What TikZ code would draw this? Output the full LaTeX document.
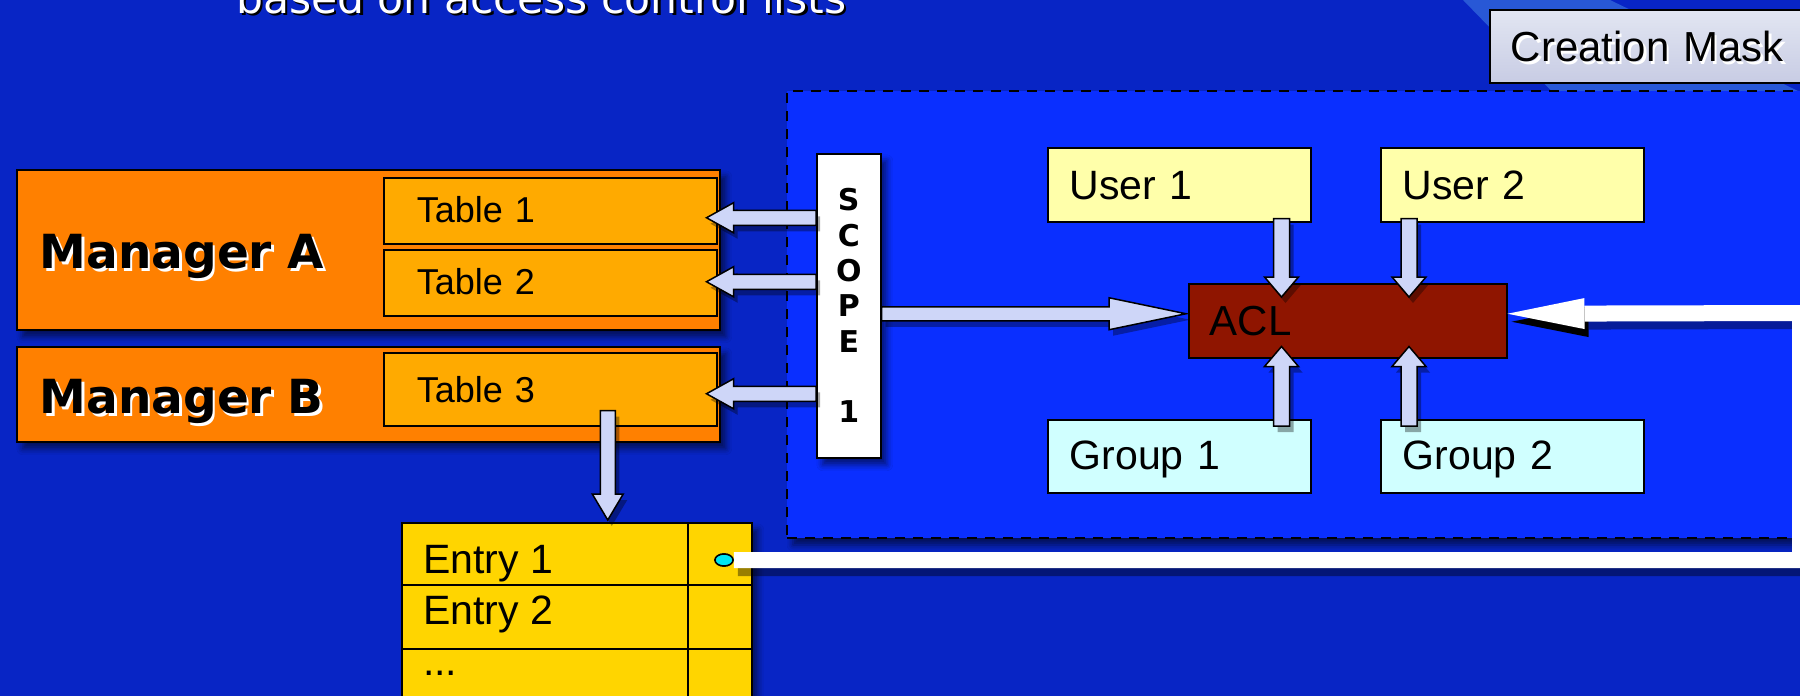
\documentclass[tikz,border=0pt]{standalone}
\usepackage{fontspec}
\setmainfont{Liberation Sans}
\newfontfamily\vfont{DejaVu Sans}
\usetikzlibrary{calc,arrows.meta,shapes.geometric,shadows.blur}

\definecolor{bgblue}{RGB}{8,37,197}
\definecolor{stripeblue}{RGB}{40,88,214}
\definecolor{maskblue}{RGB}{10,47,255}
\definecolor{cmtop}{RGB}{226,230,242}
\definecolor{cmbot}{RGB}{200,204,228}
\definecolor{mgrorange}{RGB}{255,128,0}
\definecolor{tblorange}{RGB}{255,170,0}
\definecolor{entrygold}{RGB}{255,213,0}
\definecolor{aclred}{RGB}{143,21,0}
\definecolor{userfill}{RGB}{255,255,170}
\definecolor{groupfill}{RGB}{208,255,255}
\definecolor{arrowfill}{RGB}{206,214,248}
\definecolor{dotcyan}{RGB}{0,230,240}

\newcommand\fsz[1]{\fontsize{#1}{#1}\selectfont}
% text with an offset shadow copy underneath
\newcommand\shtext[2]{\makebox[0pt][l]{\hspace{2.5pt}\raisebox{-2.5pt}{\color{#1}#2}}#2}

% outlined block arrow: start, tip, shaft half width, head length, head half width
\newcommand\blockarrow[5]{%
  \coordinate (ba-s) at #1;
  \coordinate (ba-t) at #2;
  \coordinate (ba-h) at ($(ba-t)!#4pt!(ba-s)$);
  \def\bapoly{($(ba-s)!#3pt!90:(ba-t)$) -- ($(ba-h)!#3pt!-90:(ba-s)$) --
    ($(ba-h)!#5pt!-90:(ba-s)$) -- (ba-t) -- ($(ba-h)!#5pt!90:(ba-s)$) --
    ($(ba-h)!#3pt!90:(ba-s)$) -- ($(ba-s)!#3pt!-90:(ba-t)$) -- cycle}%
  \fill[arrowshadow] \bapoly;
  \filldraw[arrowbody] \bapoly;
}

\begin{document}
\begin{tikzpicture}[x=1pt,y=-1pt,
  softshadow/.style={blur shadow={shadow xshift=6pt, shadow yshift=-7pt,
      shadow blur radius=6pt, shadow opacity=55}},
  labelbox/.style={draw=black, line width=1.5pt, inner ysep=0pt, align=left,
      anchor=north west, text depth=0pt},
  region/.style={draw=black, line width=2pt, dash pattern=on 10pt off 8pt,
      fill=maskblue, inner sep=0pt},
  arrowbody/.style={fill=arrowfill, draw=black, line width=1.5pt, line join=miter},
  arrowshadow/.style={fill=black, fill opacity=0.35,
      transform canvas={shift={(4pt,-6pt)}}},
  gridline/.style={draw=black, line width=1.5pt},
  whiteline/.style={draw=white, line width=16pt, line join=miter,
      -{Triangle[length=77pt,width=31pt,line width=0pt]}},
  whiteshadow/.style={draw=black, draw opacity=0.4, line width=16pt, line join=miter,
      -{Triangle[length=77pt,width=31pt,line width=0pt]},
      transform canvas={shift={(4pt,-8pt)}}},
  cell/.style={anchor=base west, inner sep=0pt, font=\fsz{41}}
]
\useasboundingbox (0,0) rectangle (1800,696);
\clip (0,0) rectangle (1800,696);

% slide background
\fill[bgblue] (0,0) rectangle (1800,696);
\fill[stripeblue] (1463,0) -- (1610,0) -- (1800,92) -- (1800,110) -- (1570,110) -- cycle;

\node[anchor=base west, inner sep=0pt, font=\vfont\fsz{42.5}, text=white] (title)
  at (236,13) {\shtext{black}{based on access control lists}};

% region governed by the creation mask
\node[region, softshadow, anchor=north west, minimum width=1044pt,
  minimum height=447.5pt] (maskarea) at (786,89.5) {};

\node[labelbox, top color=cmtop, bottom color=cmbot, minimum width=340pt,
  minimum height=73pt, inner xsep=21pt, text width=298pt, text height=31pt,
  font=\fsz{42}] (cmask) at (1489,9) {\shtext{white}{Creation Mask}};

% managers and their tables
\node[labelbox, fill=mgrorange, softshadow, minimum width=703pt, minimum height=160pt,
  inner xsep=23pt, text width=657pt, text height=38pt, font=\vfont\bfseries\fsz{47}]
  (mgra) at (16,169) {\shtext{white}{Manager A}};
\node[labelbox, fill=mgrorange, softshadow, minimum width=703pt, minimum height=95pt,
  inner xsep=23pt, text width=657pt, text height=39pt, font=\vfont\bfseries\fsz{47}]
  (mgrb) at (16,346) {\shtext{white}{Manager B}};

\node[labelbox, fill=tblorange, minimum width=333pt, minimum height=66pt,
  inner xsep=33pt, text width=267pt, text height=24pt, font=\fsz{36}]
  (t1) at (383,177) {Table 1};
\node[labelbox, fill=tblorange, minimum width=333pt, minimum height=66pt,
  inner xsep=33pt, text width=267pt, text height=24pt, font=\fsz{36}]
  (t2) at (383,249) {Table 2};
\node[labelbox, fill=tblorange, minimum width=333pt, minimum height=73pt,
  inner xsep=33pt, text width=267pt, text height=27pt, font=\fsz{36}]
  (t3) at (383,352) {Table 3};

% entry table
\node[draw=black, line width=1.5pt, fill=entrygold, softshadow, anchor=north west,
  inner sep=0pt, minimum width=350pt, minimum height=200pt] (etab) at (401,522) {};
\draw[gridline] ([yshift=-63pt]etab.north west) -- ([yshift=-63pt]etab.north east);
\draw[gridline] ([yshift=-127pt]etab.north west) -- ([yshift=-127pt]etab.north east);
\draw[gridline] ([xshift=287pt]etab.north west) -- ([xshift=287pt]etab.south west);
\node[cell] (e1) at ([xshift=22pt,yshift=-51pt]etab.north west) {Entry 1};
\node[cell] (e2) at ([xshift=22pt,yshift=-102pt]etab.north west) {Entry 2};
\node[cell] (e3) at ([xshift=22pt,yshift=-153pt]etab.north west) {...};

% users, groups and the ACL
\node[labelbox, fill=userfill, minimum width=263pt, minimum height=74pt,
  inner xsep=22pt, text width=219pt, text height=30pt, font=\fsz{41}]
  (u1) at (1047,147) {User 1};
\node[labelbox, fill=userfill, minimum width=263pt, minimum height=74pt,
  inner xsep=22pt, text width=219pt, text height=30pt, font=\fsz{41}]
  (u2) at (1380,147) {User 2};
\node[labelbox, fill=groupfill, minimum width=263pt, minimum height=73pt,
  inner xsep=22pt, text width=219pt, text height=27pt, font=\fsz{41}]
  (g1) at (1047,419) {Group 1};
\node[labelbox, fill=groupfill, minimum width=263pt, minimum height=73pt,
  inner xsep=22pt, text width=219pt, text height=27pt, font=\fsz{41}]
  (g2) at (1380,419) {Group 2};
\node[labelbox, fill=aclred, minimum width=318pt, minimum height=74pt,
  inner xsep=21pt, text width=276pt, text height=30pt, font=\fsz{42}]
  (acl) at (1188,283) {ACL};

% scope bar
\node[draw=black, line width=1.5pt, fill=white, softshadow, anchor=north west,
  inner sep=0pt, minimum width=64pt, minimum height=304pt, align=center,
  font=\vfont\bfseries\fontsize{30}{35.3}\selectfont]
  (scope) at (816,153) {S\\C\\O\\P\\E\\\mbox{}\\1};

% scope to tables
\coordinate (tipA) at ([xshift=-11pt,yshift=-7pt]t1.east);
\coordinate (tipB) at ([xshift=-11pt,yshift=1pt]t2.east);
\coordinate (tipC) at ([xshift=-11pt,yshift=-4.5pt]t3.east);
\blockarrow{(scope.west |- tipA)}{(tipA)}{7.5}{27}{15}
\blockarrow{(scope.west |- tipB)}{(tipB)}{7.5}{27}{15}
\blockarrow{(scope.west |- tipC)}{(tipC)}{7.5}{27}{15}

% table 3 to its entries
\coordinate (downS) at ([xshift=57.5pt,yshift=16pt]t3.south);
\coordinate (downX) at (downS |- etab.north);
\coordinate (downT) at ([yshift=2pt]downX);
\blockarrow{(downS)}{(downT)}{7.5}{26}{15.5}

% scope to ACL
\coordinate (tipD) at ([xshift=-2pt,yshift=7pt]acl.west);
\blockarrow{(scope.east |- tipD)}{(tipD)}{7}{77}{16}

% users and groups to ACL
\coordinate (ua) at ([xshift=-30pt,yshift=4pt]u1.south east);
\coordinate (uaX) at (ua |- acl.north);
\coordinate (uaT) at ([yshift=-14pt]uaX);
\blockarrow{(ua)}{(uaT)}{8}{20}{17}
\coordinate (ub) at ([xshift=29pt,yshift=4pt]u2.south west);
\coordinate (ubX) at (ub |- acl.north);
\coordinate (ubT) at ([yshift=-14pt]ubX);
\blockarrow{(ub)}{(ubT)}{8}{20}{17}
\coordinate (ga) at ([xshift=-30pt,yshift=-7pt]g1.north east);
\coordinate (gaX) at (ga |- acl.south);
\coordinate (gaT) at ([yshift=12pt]gaX);
\blockarrow{(ga)}{(gaT)}{8}{20}{17}
\coordinate (gb) at ([xshift=29pt,yshift=-7pt]g2.north west);
\coordinate (gbX) at (gb |- acl.south);
\coordinate (gbT) at ([yshift=12pt]gbX);
\blockarrow{(gb)}{(gbT)}{8}{20}{17}

% entry reference back to the ACL
\node[ellipse, draw=black, line width=1.5pt, fill=dotcyan, inner sep=0pt,
  minimum width=18pt, minimum height=12pt] (dot) at (724,560) {};
\coordinate (edge) at (1800,313);
\coordinate (aclin) at ([yshift=7pt]acl.east);
\draw[whiteshadow] (dot.east) -| (edge) -- (aclin);
\draw[whiteline] (dot.east) -| (edge) -- (aclin);
\node[ellipse, draw=black, line width=1.5pt, fill=dotcyan, inner sep=0pt,
  minimum width=18pt, minimum height=12pt] at (dot) {};
\end{tikzpicture}
\end{document}
